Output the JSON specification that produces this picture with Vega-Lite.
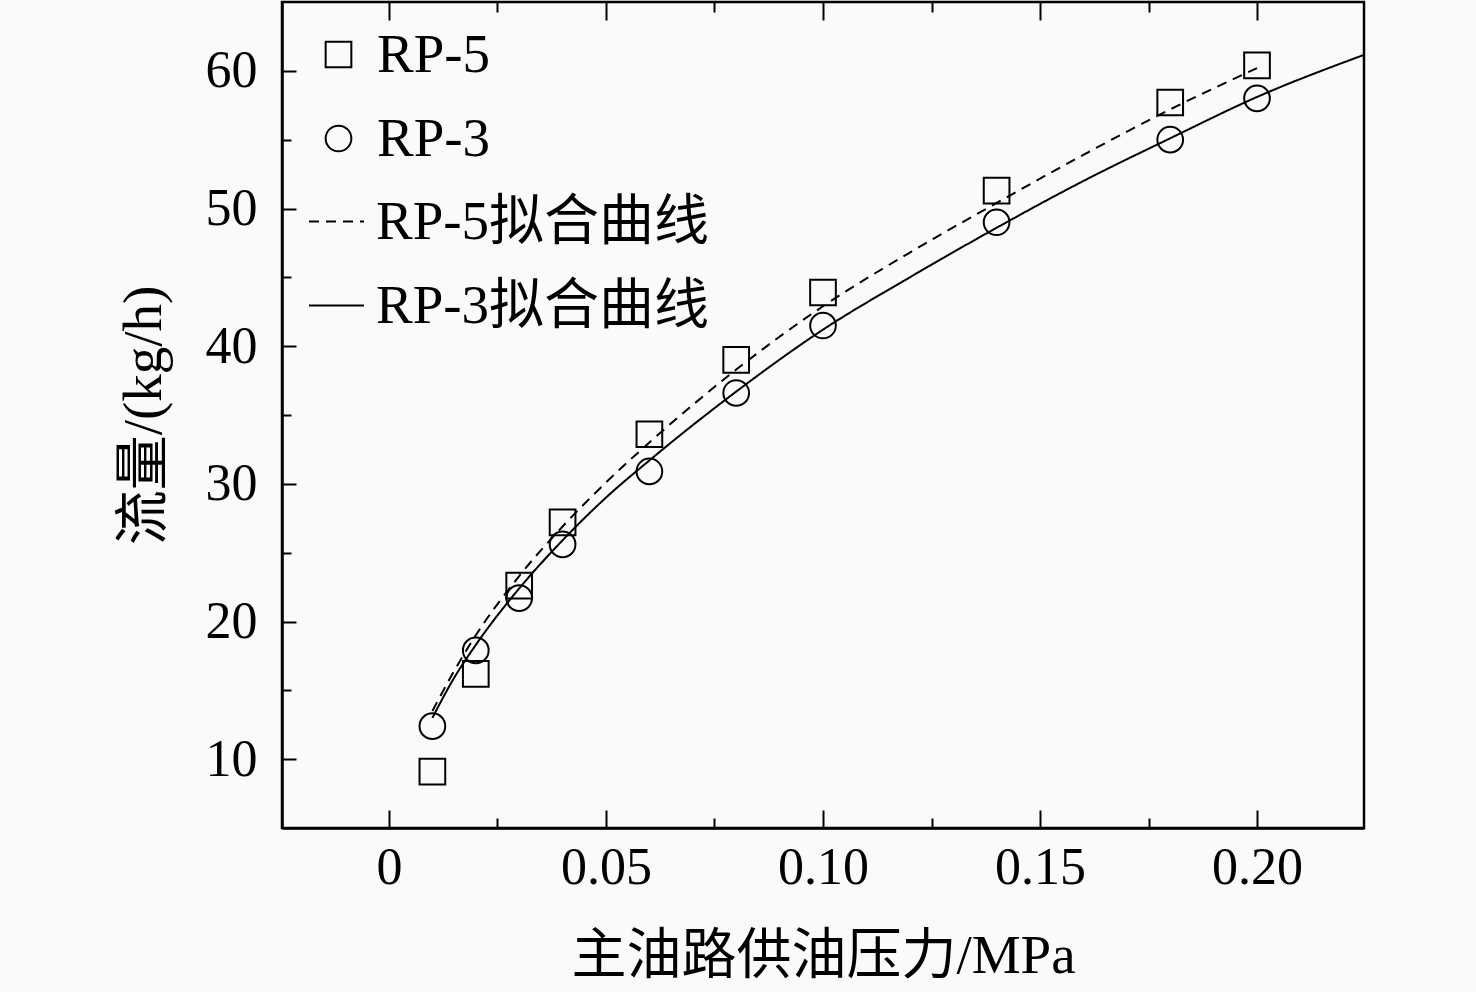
{
  "$schema": "https://vega.github.io/schema/vega-lite/v6.json",
  "width": 1082,
  "height": 826,
  "autosize": "none",
  "padding": {"left": 282, "top": 2, "right": 112, "bottom": 164},
  "background": "#fafafa",
  "config": {
    "font": "Liberation Serif, Noto Sans CJK SC",
    "view": {"stroke": "black", "strokeWidth": 2.5},
    "axis": {
      "grid": false,
      "domainColor": "black",
      "domainWidth": 2.5,
      "tickColor": "black",
      "tickWidth": 2,
      "labelColor": "black",
      "labelFont": "Liberation Serif",
      "labelFontSize": 52,
      "titleColor": "black",
      "titleFont": "Liberation Serif, Noto Sans CJK SC",
      "titleFontSize": 55,
      "titleFontWeight": "normal"
    },
    "legend": {
      "labelFont": "Liberation Serif, Noto Sans CJK SC",
      "labelFontSize": 55,
      "labelColor": "black",
      "labelLimit": 0,
      "padding": 0,
      "rowPadding": 28
    }
  },
  "datasets": {
    "points": [
      {"p": 0.01, "q": 9.1, "s": "RP-5"},
      {"p": 0.02, "q": 16.2, "s": "RP-5"},
      {"p": 0.03, "q": 22.6, "s": "RP-5"},
      {"p": 0.04, "q": 27.2, "s": "RP-5"},
      {"p": 0.06, "q": 33.6, "s": "RP-5"},
      {"p": 0.08, "q": 39.0, "s": "RP-5"},
      {"p": 0.10, "q": 43.9, "s": "RP-5"},
      {"p": 0.14, "q": 51.3, "s": "RP-5"},
      {"p": 0.18, "q": 57.7, "s": "RP-5"},
      {"p": 0.20, "q": 60.4, "s": "RP-5"},
      {"p": 0.01, "q": 12.4, "s": "RP-3"},
      {"p": 0.02, "q": 17.9, "s": "RP-3"},
      {"p": 0.03, "q": 21.7, "s": "RP-3"},
      {"p": 0.04, "q": 25.6, "s": "RP-3"},
      {"p": 0.06, "q": 30.9, "s": "RP-3"},
      {"p": 0.08, "q": 36.6, "s": "RP-3"},
      {"p": 0.10, "q": 41.5, "s": "RP-3"},
      {"p": 0.14, "q": 49.0, "s": "RP-3"},
      {"p": 0.18, "q": 55.0, "s": "RP-3"},
      {"p": 0.20, "q": 58.0, "s": "RP-3"}
    ],
    "fits": [
      {"p": 0.01, "q": 13.5, "f": "RP-5拟合曲线"},
      {"p": 0.015, "q": 16.4, "f": "RP-5拟合曲线"},
      {"p": 0.02, "q": 19.0, "f": "RP-5拟合曲线"},
      {"p": 0.03, "q": 23.3, "f": "RP-5拟合曲线"},
      {"p": 0.04, "q": 26.9, "f": "RP-5拟合曲线"},
      {"p": 0.05, "q": 30.1, "f": "RP-5拟合曲线"},
      {"p": 0.06, "q": 33.0, "f": "RP-5拟合曲线"},
      {"p": 0.08, "q": 38.3, "f": "RP-5拟合曲线"},
      {"p": 0.10, "q": 42.9, "f": "RP-5拟合曲线"},
      {"p": 0.12, "q": 46.8, "f": "RP-5拟合曲线"},
      {"p": 0.14, "q": 50.4, "f": "RP-5拟合曲线"},
      {"p": 0.16, "q": 53.9, "f": "RP-5拟合曲线"},
      {"p": 0.18, "q": 57.2, "f": "RP-5拟合曲线"},
      {"p": 0.20, "q": 60.2, "f": "RP-5拟合曲线"},
      {"p": 0.01, "q": 13.0, "f": "RP-3拟合曲线"},
      {"p": 0.015, "q": 15.9, "f": "RP-3拟合曲线"},
      {"p": 0.02, "q": 18.3, "f": "RP-3拟合曲线"},
      {"p": 0.03, "q": 22.4, "f": "RP-3拟合曲线"},
      {"p": 0.04, "q": 25.9, "f": "RP-3拟合曲线"},
      {"p": 0.05, "q": 29.0, "f": "RP-3拟合曲线"},
      {"p": 0.06, "q": 31.7, "f": "RP-3拟合曲线"},
      {"p": 0.08, "q": 36.7, "f": "RP-3拟合曲线"},
      {"p": 0.10, "q": 41.2, "f": "RP-3拟合曲线"},
      {"p": 0.12, "q": 45.0, "f": "RP-3拟合曲线"},
      {"p": 0.14, "q": 48.6, "f": "RP-3拟合曲线"},
      {"p": 0.16, "q": 52.0, "f": "RP-3拟合曲线"},
      {"p": 0.18, "q": 55.1, "f": "RP-3拟合曲线"},
      {"p": 0.20, "q": 58.1, "f": "RP-3拟合曲线"},
      {"p": 0.225, "q": 61.2, "f": "RP-3拟合曲线"}
    ]
  },
  "layer": [
    {
      "data": {"name": "fits"},
      "mark": {"type": "line", "color": "black", "strokeWidth": 2, "interpolate": "monotone", "clip": true},
      "encoding": {
        "x": {
          "field": "p", "type": "quantitative",
          "scale": {"domain": [-0.02465, 0.22465], "nice": false, "zero": false},
          "axis": {
            "orient": "top", "labels": false, "title": null, "domain": false,
            "values": [0, 0.025, 0.05, 0.075, 0.1, 0.125, 0.15, 0.175, 0.2],
            "tickSize": {"condition": {"test": "round(datum.value * 40) % 2 == 0", "value": -18}, "value": -10}
          }
        },
        "y": {
          "field": "q", "type": "quantitative",
          "scale": {"domain": [5, 65], "nice": false, "zero": false},
          "axis": null
        },
        "strokeDash": {
          "field": "f", "type": "nominal",
          "scale": {"domain": ["RP-5拟合曲线", "RP-3拟合曲线"], "range": [[10, 7], [1, 0]]},
          "legend": {
            "title": null, "orient": "none", "legendX": 26, "legendY": 191,
            "symbolType": "stroke", "symbolSize": 3025, "symbolStrokeWidth": 2,
            "symbolStrokeColor": "black", "labelOffset": 11, "rowPadding": 27
          }
        }
      }
    },
    {
      "data": {"name": "points"},
      "mark": {"type": "point", "filled": false, "color": "black", "strokeWidth": 2, "size": 660, "opacity": 1},
      "encoding": {
        "x": {
          "field": "p", "type": "quantitative",
          "axis": {
            "orient": "bottom", "title": "主油路供油压力/MPa", "titlePadding": 28,
            "values": [0, 0.025, 0.05, 0.075, 0.1, 0.125, 0.15, 0.175, 0.2],
            "labelExpr": "round(datum.value * 40) % 2 != 0 ? '' : (datum.value == 0 ? '0' : format(datum.value, '.2f'))",
            "labelPadding": 32, "labelFlush": false, "labelOverlap": false,
            "tickSize": {"condition": {"test": "round(datum.value * 40) % 2 == 0", "value": -18}, "value": -10}
          }
        },
        "y": {
          "field": "q", "type": "quantitative",
          "axis": {
            "orient": "left", "title": "流量/(kg/h)", "titlePadding": 33,
            "values": [10, 15, 20, 25, 30, 35, 40, 45, 50, 55, 60],
            "labelExpr": "datum.value % 10 == 0 ? datum.label : ''",
            "labelPadding": 39, "labelFlush": false, "labelOverlap": false,
            "tickSize": {"condition": {"test": "datum.value % 10 == 0", "value": -14}, "value": -9}
          }
        },
        "shape": {
          "field": "s", "type": "nominal",
          "scale": {"domain": ["RP-5", "RP-3"], "range": ["square", "circle"]},
          "legend": {
            "title": null, "orient": "none", "legendX": 29, "legendY": 25,
            "symbolSize": 660, "symbolStrokeWidth": 2, "symbolStrokeColor": "black",
            "symbolFillColor": "transparent", "labelOffset": 11
          }
        }
      }
    }
  ],
  "resolve": {"axis": {"x": "independent", "y": "independent"}}
}
